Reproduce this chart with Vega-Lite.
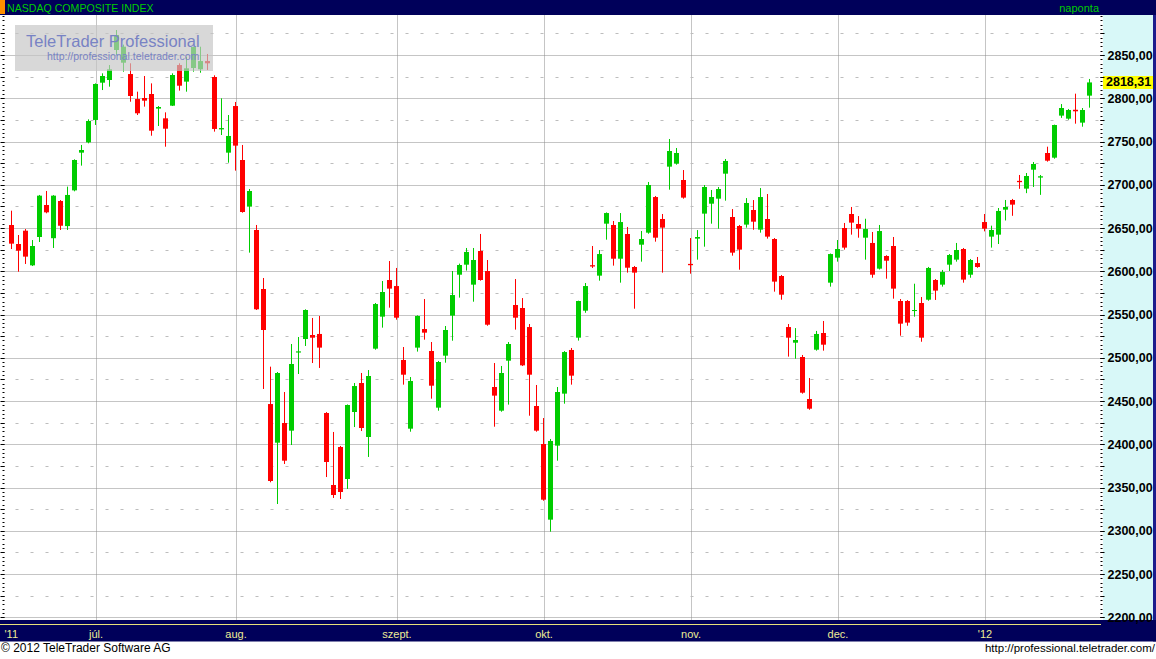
{
"$schema": "https://vega.github.io/schema/vega-lite/v6.json",
"width": 1096,
"height": 605,
"autosize": {"type": "none"},
"padding": {"left": 4, "top": 15, "right": 56, "bottom": 39},
"background": "white",
"config": {"view": {"stroke": null}, "font": "Liberation Sans", "scale": {"continuousPadding": 0}},
"resolve": {"axis": {"x": "independent", "y": "independent"}},
"datasets": {
"ohlc": [
{"i":0,"o":2653.5,"h":2670,"l":2625.7,"c":2631.9},
{"i":1,"o":2631.5,"h":2641.9,"l":2599.5,"c":2623.8},
{"i":2,"o":2646.9,"h":2648.8,"l":2608.4,"c":2616.9},
{"i":3,"o":2606.8,"h":2636.1,"l":2606,"c":2629.2},
{"i":4,"o":2639.6,"h":2688.2,"l":2633.8,"c":2687.4},
{"i":5,"o":2676.6,"h":2692.8,"l":2667,"c":2668.1},
{"i":6,"o":2638.2,"h":2688,"l":2626.9,"c":2687.4},
{"i":7,"o":2681.2,"h":2682.3,"l":2647.7,"c":2652.6},
{"i":8,"o":2652.2,"h":2697.8,"l":2647.7,"c":2688.2},
{"i":9,"o":2693.5,"h":2729.4,"l":2692.4,"c":2728.6},
{"i":10,"o":2737.1,"h":2746,"l":2722.1,"c":2740.2},
{"i":11,"o":2749,"h":2775.6,"l":2747.9,"c":2773.7},
{"i":12,"o":2774.9,"h":2817.2,"l":2769.1,"c":2816.5},
{"i":13,"o":2818,"h":2828.8,"l":2809.5,"c":2825.7},
{"i":14,"o":2821.1,"h":2838.4,"l":2813.4,"c":2833.4},
{"i":15,"o":2855.8,"h":2878.9,"l":2850,"c":2873.1},
{"i":16,"o":2841.1,"h":2862,"l":2830.7,"c":2859.6},
{"i":17,"o":2828,"h":2840.4,"l":2796,"c":2802.6},
{"i":18,"o":2799.1,"h":2807.6,"l":2780.6,"c":2782.6},
{"i":19,"o":2800.3,"h":2825.7,"l":2790.3,"c":2797.2},
{"i":20,"o":2804.9,"h":2817.2,"l":2756.7,"c":2762.5},
{"i":21,"o":2788,"h":2791,"l":2767.9,"c":2789.9},
{"i":22,"o":2776.8,"h":2783.7,"l":2744,"c":2764.8},
{"i":23,"o":2791.4,"h":2828.8,"l":2791,"c":2826.9},
{"i":24,"o":2838.4,"h":2840.4,"l":2808.8,"c":2814.5},
{"i":25,"o":2819.2,"h":2848,"l":2807.6,"c":2834.6},
{"i":26,"o":2835,"h":2859.6,"l":2830.7,"c":2859.2},
{"i":27,"o":2833.5,"h":2859.6,"l":2829.5,"c":2843},
{"i":28,"o":2843,"h":2851.2,"l":2832.7,"c":2840.4},
{"i":29,"o":2824.6,"h":2826.5,"l":2761.4,"c":2764.5},
{"i":30,"o":2764,"h":2799.9,"l":2757.5,"c":2765.5},
{"i":31,"o":2737.1,"h":2780.6,"l":2725.5,"c":2756.4},
{"i":32,"o":2791,"h":2795.7,"l":2716.3,"c":2745.2},
{"i":33,"o":2728.6,"h":2746,"l":2667.7,"c":2668.5},
{"i":34,"o":2674.7,"h":2695.1,"l":2621.5,"c":2692.8},
{"i":35,"o":2647.7,"h":2653.5,"l":2555.2,"c":2556},
{"i":36,"o":2579.5,"h":2592.2,"l":2463.9,"c":2532.1},
{"i":37,"o":2446.5,"h":2489.7,"l":2356,"c":2357.5},
{"i":38,"o":2401.8,"h":2483.5,"l":2330.9,"c":2482.4},
{"i":39,"o":2424.6,"h":2460.4,"l":2377.2,"c":2381},
{"i":40,"o":2415.7,"h":2515.9,"l":2399.1,"c":2492.8},
{"i":41,"o":2506,"h":2524,"l":2481.2,"c":2507.4},
{"i":42,"o":2521.7,"h":2556,"l":2513.6,"c":2555.2},
{"i":43,"o":2526.3,"h":2546,"l":2493.9,"c":2523.2},
{"i":44,"o":2527.5,"h":2548.3,"l":2488.2,"c":2511.7},
{"i":45,"o":2436.1,"h":2437.2,"l":2362.1,"c":2379.5},
{"i":46,"o":2352.9,"h":2414.2,"l":2337.9,"c":2341.3},
{"i":47,"o":2396.8,"h":2398,"l":2336.7,"c":2344.8},
{"i":48,"o":2359.8,"h":2446,"l":2348.3,"c":2445.4},
{"i":49,"o":2437.3,"h":2470.8,"l":2419.9,"c":2467.3},
{"i":50,"o":2470.8,"h":2482.4,"l":2415.3,"c":2418.8},
{"i":51,"o":2408.4,"h":2485.8,"l":2385.3,"c":2478.9},
{"i":52,"o":2510.5,"h":2563.3,"l":2509.3,"c":2562.1},
{"i":53,"o":2547.5,"h":2588.7,"l":2534.8,"c":2576},
{"i":54,"o":2589.9,"h":2611.8,"l":2557.9,"c":2579.9},
{"i":55,"o":2582.9,"h":2603.8,"l":2544,"c":2546.3},
{"i":56,"o":2497.4,"h":2512.4,"l":2468.9,"c":2480.4},
{"i":57,"o":2418,"h":2477.7,"l":2414.5,"c":2473.1},
{"i":58,"o":2511.7,"h":2549,"l":2507.1,"c":2548.3},
{"i":59,"o":2533.2,"h":2567.9,"l":2520.9,"c":2529},
{"i":60,"o":2507.8,"h":2518.2,"l":2452.7,"c":2467.7},
{"i":61,"o":2442.3,"h":2496.3,"l":2438.8,"c":2495.1},
{"i":62,"o":2502.4,"h":2536.7,"l":2494.3,"c":2532.1},
{"i":63,"o":2548.7,"h":2600.3,"l":2519.7,"c":2572.5},
{"i":64,"o":2596,"h":2608.8,"l":2569.5,"c":2607.2},
{"i":65,"o":2607.6,"h":2626.9,"l":2600.8,"c":2622.3},
{"i":66,"o":2584.5,"h":2626.9,"l":2564.8,"c":2613},
{"i":67,"o":2623.4,"h":2643.1,"l":2589.1,"c":2589.9},
{"i":68,"o":2600.3,"h":2613,"l":2537,"c":2538.2},
{"i":69,"o":2466.2,"h":2493.9,"l":2420.3,"c":2456.2},
{"i":70,"o":2438.8,"h":2490.5,"l":2437.6,"c":2482.4},
{"i":71,"o":2496.6,"h":2518.2,"l":2445.8,"c":2515.9},
{"i":72,"o":2561,"h":2591,"l":2532.5,"c":2546.3},
{"i":73,"o":2557.5,"h":2569,"l":2490.4,"c":2491.2},
{"i":74,"o":2535.5,"h":2539,"l":2433,"c":2480.4},
{"i":75,"o":2444.2,"h":2468.5,"l":2414.5,"c":2415.7},
{"i":76,"o":2400.3,"h":2430.3,"l":2334.7,"c":2335.9},
{"i":77,"o":2312.8,"h":2406.1,"l":2298.9,"c":2403.8},
{"i":78,"o":2398.4,"h":2466.2,"l":2381,"c":2460.4},
{"i":79,"o":2458.5,"h":2507.7,"l":2446.9,"c":2506.6},
{"i":80,"o":2509,"h":2511.3,"l":2468.9,"c":2479.3},
{"i":81,"o":2523.2,"h":2566,"l":2519.8,"c":2565.6},
{"i":82,"o":2554.4,"h":2586.4,"l":2552,"c":2582.9},
{"i":83,"o":2607,"h":2629.2,"l":2603.8,"c":2605.5},
{"i":84,"o":2594.9,"h":2624.5,"l":2589.1,"c":2619.9},
{"i":85,"o":2655,"h":2668,"l":2636.5,"c":2667.3},
{"i":86,"o":2653.5,"h":2658.1,"l":2606.5,"c":2614.5},
{"i":87,"o":2614.5,"h":2667.3,"l":2586.8,"c":2656.9},
{"i":88,"o":2643.1,"h":2651.2,"l":2598.4,"c":2604.1},
{"i":89,"o":2604.9,"h":2606.1,"l":2556.7,"c":2598.4},
{"i":90,"o":2630.7,"h":2646.5,"l":2611.1,"c":2637.3},
{"i":91,"o":2644.6,"h":2703.2,"l":2643.4,"c":2699.7},
{"i":92,"o":2685.8,"h":2687,"l":2634.2,"c":2638.8},
{"i":93,"o":2660.4,"h":2666.2,"l":2598.4,"c":2650.4},
{"i":94,"o":2720.9,"h":2752.9,"l":2694.3,"c":2739},
{"i":95,"o":2724.4,"h":2742.5,"l":2723.2,"c":2736.7},
{"i":96,"o":2705.5,"h":2717,"l":2683.9,"c":2685.1},
{"i":97,"o":2608.5,"h":2638.4,"l":2597.2,"c":2607},
{"i":98,"o":2637.7,"h":2647.6,"l":2613.4,"c":2639.6},
{"i":99,"o":2666.6,"h":2699.7,"l":2628.4,"c":2697.4},
{"i":100,"o":2678.1,"h":2693.9,"l":2655,"c":2685.8},
{"i":101,"o":2683.9,"h":2697.4,"l":2649.2,"c":2695.1},
{"i":102,"o":2712.8,"h":2729.8,"l":2681.6,"c":2727.5},
{"i":103,"o":2662.7,"h":2671.9,"l":2618,"c":2621.5},
{"i":104,"o":2652.3,"h":2653.5,"l":2601.8,"c":2625},
{"i":105,"o":2653.9,"h":2684.6,"l":2650.4,"c":2678.9},
{"i":106,"o":2670.8,"h":2682.3,"l":2648,"c":2657.3},
{"i":107,"o":2648.1,"h":2696.2,"l":2644.6,"c":2685.8},
{"i":108,"o":2660.4,"h":2689.3,"l":2637.7,"c":2640},
{"i":109,"o":2637.3,"h":2638.4,"l":2576.4,"c":2588},
{"i":110,"o":2594.5,"h":2595.7,"l":2567.1,"c":2572.9},
{"i":111,"o":2535.5,"h":2539,"l":2501.3,"c":2523.2},
{"i":112,"o":2517.4,"h":2534.3,"l":2498.9,"c":2520.5},
{"i":113,"o":2500.9,"h":2503.2,"l":2458.5,"c":2459.6},
{"i":114,"o":2452.3,"h":2476.6,"l":2439.9,"c":2441.1},
{"i":115,"o":2509.3,"h":2531,"l":2508.2,"c":2527.5},
{"i":116,"o":2528.6,"h":2542.5,"l":2508.2,"c":2515.1},
{"i":117,"o":2586.8,"h":2620.5,"l":2582.2,"c":2619.9},
{"i":118,"o":2615.7,"h":2636.1,"l":2611.1,"c":2625.7},
{"i":119,"o":2650,"h":2655.8,"l":2625,"c":2627.3},
{"i":120,"o":2666.2,"h":2674.3,"l":2642.3,"c":2656.2},
{"i":121,"o":2654.6,"h":2663.8,"l":2638.8,"c":2649.2},
{"i":122,"o":2638.8,"h":2660.7,"l":2613.4,"c":2648.8},
{"i":123,"o":2632.7,"h":2645.4,"l":2592.5,"c":2596},
{"i":124,"o":2603,"h":2653.5,"l":2602,"c":2646.5},
{"i":125,"o":2617.6,"h":2618.5,"l":2591.4,"c":2612.2},
{"i":126,"o":2629.2,"h":2639.6,"l":2568.3,"c":2579.9},
{"i":127,"o":2565.6,"h":2567.9,"l":2525.5,"c":2539.4},
{"i":128,"o":2565.6,"h":2566.7,"l":2537,"c":2540.6},
{"i":129,"o":2554,"h":2585.6,"l":2547.5,"c":2555.2},
{"i":130,"o":2563.3,"h":2570.2,"l":2518.5,"c":2523.2},
{"i":131,"o":2567.1,"h":2605,"l":2565.9,"c":2603.8},
{"i":132,"o":2589.9,"h":2591,"l":2566.8,"c":2577.6},
{"i":133,"o":2584.5,"h":2601.5,"l":2582.2,"c":2599.1},
{"i":134,"o":2607.6,"h":2619.9,"l":2600.3,"c":2618.8},
{"i":135,"o":2613.4,"h":2632.7,"l":2611.1,"c":2624.6},
{"i":136,"o":2625.7,"h":2626.9,"l":2586.8,"c":2590.3},
{"i":137,"o":2596,"h":2614.2,"l":2592.5,"c":2613},
{"i":138,"o":2609.5,"h":2616.5,"l":2604,"c":2604.9},
{"i":139,"o":2656.9,"h":2666.2,"l":2646.1,"c":2649.2},
{"i":140,"o":2640,"h":2652.7,"l":2627.3,"c":2647.7},
{"i":141,"o":2642.3,"h":2673.1,"l":2631.5,"c":2669.7},
{"i":142,"o":2671.2,"h":2682.4,"l":2658.7,"c":2674.3},
{"i":143,"o":2682.4,"h":2683.6,"l":2664.1,"c":2677},
{"i":144,"o":2704.5,"h":2711.3,"l":2695.3,"c":2703},
{"i":145,"o":2695.5,"h":2713.6,"l":2690.3,"c":2710.1},
{"i":146,"o":2717.4,"h":2726.3,"l":2697.4,"c":2724},
{"i":147,"o":2708.3,"h":2711.3,"l":2688.3,"c":2709.8},
{"i":148,"o":2736.7,"h":2744,"l":2726.7,"c":2727.8},
{"i":149,"o":2731.3,"h":2769.5,"l":2730.1,"c":2769.1},
{"i":150,"o":2779.9,"h":2793.3,"l":2777.3,"c":2788.7},
{"i":151,"o":2776.4,"h":2787.6,"l":2775.1,"c":2786.4},
{"i":152,"o":2786.7,"h":2805.3,"l":2770.6,"c":2784.9},
{"i":153,"o":2771.8,"h":2788.7,"l":2767.1,"c":2786.4},
{"i":154,"o":2803,"h":2822.3,"l":2789.1,"c":2818.31}
]
},
"layer": [
{
"data": {"name": "ohlc"},
"mark": {"type": "rule", "strokeWidth": 1},
"encoding": {
"x": {"field": "i", "type": "quantitative", "scale": {"domain": [-1.071429, 155.5], "nice": false, "zero": false, "padding": 0},
"axis": {"orient": "bottom", "values": [12, 32, 55, 76, 97, 118, 139], "grid": true, "gridColor": "#8a8a8a", "gridDash": [1, 1], "gridWidth": 1, "labels": false, "ticks": false, "domain": false, "title": null, "offset": 0, "zindex": 0}},
"y": {"field": "l", "type": "quantitative", "scale": {"domain": [2196.821, 2896.243], "nice": false, "zero": false, "padding": 0},
"axis": {"orient": "right", "values": [2200, 2250, 2300, 2350, 2400, 2450, 2500, 2550, 2600, 2650, 2700, 2750, 2800, 2850], "grid": true, "gridColor": "#8a8a8a", "gridDash": [1, 1], "gridWidth": 1, "labels": false, "ticks": false, "domain": false, "title": null, "offset": 0, "zindex": 0}},
"y2": {"field": "h"},
"color": {"condition": {"test": "datum.c >= datum.o", "value": "#00cc00"}, "value": "#ff0000"}
}
},
{
"data": {"name": "ohlc"},
"mark": {"type": "bar", "size": 5},
"encoding": {
"x": {"field": "i", "type": "quantitative", "scale": {"domain": [-1.071429, 155.5], "nice": false, "zero": false, "padding": 0}, "axis": null},
"y": {"field": "o", "type": "quantitative", "scale": {"domain": [2196.821, 2896.243], "nice": false, "zero": false, "padding": 0},
"axis": {"orient": "left", "values": [2225, 2275, 2325, 2375, 2425, 2475, 2525, 2575, 2625, 2675, 2725, 2775, 2825, 2875], "grid": true, "gridColor": "#bdbdbd", "gridDash": [3, 12], "gridDashOffset": 4, "gridWidth": 1, "labels": false, "ticks": false, "domain": false, "title": null, "offset": 0, "zindex": 0}},
"y2": {"field": "c"},
"color": {"condition": {"test": "datum.c >= datum.o", "value": "#00cc00"}, "value": "#ff0000"}
}
},
{
"data": {"values": [{}]},
"mark": {"type": "rect", "color": "#c6c6c6", "opacity": 0.68},
"encoding": {
"x": {"datum": 0.5, "type": "quantitative", "scale": {"domain": [-1.071429, 155.5], "nice": false, "zero": false, "padding": 0}, "axis": null},
"x2": {"datum": 28.785714},
"y": {"datum": 2884.682, "type": "quantitative", "scale": {"domain": [2196.821, 2896.243], "nice": false, "zero": false, "padding": 0}, "axis": null},
"y2": {"datum": 2831.503}
}
},
{
"data": {"values": [{}]},
"mark": {"type": "text", "text": "TeleTrader Professional", "align": "left", "baseline": "alphabetic", "font": "Liberation Sans", "fontSize": 16.5, "color": "#7883c4"},
"encoding": {
"x": {"datum": 2.071429, "type": "quantitative", "scale": {"domain": [-1.071429, 155.5], "nice": false, "zero": false, "padding": 0}, "axis": null},
"y": {"datum": 2859.6, "type": "quantitative", "scale": {"domain": [2196.821, 2896.243], "nice": false, "zero": false, "padding": 0}, "axis": null}
}
},
{
"data": {"values": [{}]},
"mark": {"type": "text", "text": "http://professional.teletrader.com", "align": "left", "baseline": "alphabetic", "font": "Liberation Sans", "fontSize": 10.5, "color": "#7883c4"},
"encoding": {
"x": {"datum": 5.071429, "type": "quantitative", "scale": {"domain": [-1.071429, 155.5], "nice": false, "zero": false, "padding": 0}, "axis": null},
"y": {"datum": 2844.22, "type": "quantitative", "scale": {"domain": [2196.821, 2896.243], "nice": false, "zero": false, "padding": 0}, "axis": null}
}
},
{
"data": {"values": [{}]},
"mark": {"type": "rect", "color": "#d8f8f8"},
"encoding": {
"x": {"datum": 155.928571, "type": "quantitative", "scale": {"domain": [-1.071429, 155.5], "nice": false, "zero": false, "padding": 0}, "axis": null},
"x2": {"datum": 163.071429},
"y": {"datum": 2896.243, "type": "quantitative", "scale": {"domain": [2196.821, 2896.243], "nice": false, "zero": false, "padding": 0}, "axis": null},
"y2": {"datum": 2196.821}
}
},
{
"data": {"values": [{}]},
"mark": {"type": "rect", "color": "#1c1c8c"},
"encoding": {
"x": {"datum": 163.071429, "type": "quantitative", "scale": {"domain": [-1.071429, 155.5], "nice": false, "zero": false, "padding": 0}, "axis": null},
"x2": {"datum": 163.5},
"y": {"datum": 2913.584, "type": "quantitative", "scale": {"domain": [2196.821, 2896.243], "nice": false, "zero": false, "padding": 0}, "axis": null},
"y2": {"datum": 2171.965}
}
},
{
"data": {"values": [{}]},
"mark": {"type": "rect", "color": "#00005a"},
"encoding": {
"x": {"datum": -1.642857, "type": "quantitative", "scale": {"domain": [-1.071429, 155.5], "nice": false, "zero": false, "padding": 0}, "axis": null},
"x2": {"datum": 163.5},
"y": {"datum": 2913.584, "type": "quantitative", "scale": {"domain": [2196.821, 2896.243], "nice": false, "zero": false, "padding": 0}, "axis": null},
"y2": {"datum": 2896.243}
}
},
{
"data": {"values": [{}]},
"mark": {"type": "rect", "color": "#ff9000"},
"encoding": {
"x": {"datum": -1.642857, "type": "quantitative", "scale": {"domain": [-1.071429, 155.5], "nice": false, "zero": false, "padding": 0}, "axis": null},
"x2": {"datum": -0.928571},
"y": {"datum": 2913.584, "type": "quantitative", "scale": {"domain": [2196.821, 2896.243], "nice": false, "zero": false, "padding": 0}, "axis": null},
"y2": {"datum": 2897.4}
}
},
{
"data": {"values": [{}]},
"mark": {"type": "text", "text": "NASDAQ COMPOSITE INDEX", "align": "left", "baseline": "alphabetic", "font": "Liberation Sans", "fontSize": 10.6, "color": "#00cc00"},
"encoding": {
"x": {"datum": -0.642857, "type": "quantitative", "scale": {"domain": [-1.071429, 155.5], "nice": false, "zero": false, "padding": 0}, "axis": null},
"y": {"datum": 2900.06, "type": "quantitative", "scale": {"domain": [2196.821, 2896.243], "nice": false, "zero": false, "padding": 0}, "axis": null}
}
},
{
"data": {"values": [{}]},
"mark": {"type": "text", "text": "naponta", "align": "right", "baseline": "alphabetic", "font": "Liberation Sans", "fontSize": 11, "color": "#00cc00"},
"encoding": {
"x": {"datum": 155.357143, "type": "quantitative", "scale": {"domain": [-1.071429, 155.5], "nice": false, "zero": false, "padding": 0}, "axis": null},
"y": {"datum": 2900.06, "type": "quantitative", "scale": {"domain": [2196.821, 2896.243], "nice": false, "zero": false, "padding": 0}, "axis": null}
}
},
{
"data": {"values": [{}]},
"mark": {"type": "rect", "color": "#00005a"},
"encoding": {
"x": {"datum": -1.642857, "type": "quantitative", "scale": {"domain": [-1.071429, 155.5], "nice": false, "zero": false, "padding": 0}, "axis": null},
"x2": {"datum": 163.5},
"y": {"datum": 2196.821, "type": "quantitative", "scale": {"domain": [2196.821, 2896.243], "nice": false, "zero": false, "padding": 0}, "axis": null},
"y2": {"datum": 2171.965}
}
},
{
"data": {"values": [{}]},
"mark": {"type": "rule", "color": "#e8e07a", "strokeWidth": 1},
"encoding": {
"x": {"datum": -1.642857, "type": "quantitative", "scale": {"domain": [-1.071429, 155.5], "nice": false, "zero": false, "padding": 0}, "axis": null},
"x2": {"datum": 155.642857},
"y": {"datum": 2191.618, "type": "quantitative", "scale": {"domain": [2196.821, 2896.243], "nice": false, "zero": false, "padding": 0},
"axis": {"orient": "right", "tickCount": 140, "ticks": true, "tickSize": 2, "tickColor": "#000000", "tickWidth": 1, "labels": false, "grid": false, "domain": false, "title": null, "offset": 0, "zindex": 1}}
}
},
{
"data": {"values": [{}]},
"mark": {"type": "text", "text": "© 2012 TeleTrader Software AG", "align": "left", "baseline": "alphabetic", "font": "Liberation Sans", "fontSize": 12, "color": "#000000"},
"encoding": {
"x": {"datum": -1.5, "type": "quantitative", "scale": {"domain": [-1.071429, 155.5], "nice": false, "zero": false, "padding": 0}, "axis": null},
"y": {"datum": 2159.25, "type": "quantitative", "scale": {"domain": [2196.821, 2896.243], "nice": false, "zero": false, "padding": 0},
"axis": {"orient": "left", "tickCount": 140, "ticks": true, "tickSize": 2, "tickColor": "#000000", "tickWidth": 1, "labels": false, "grid": false, "domain": false, "title": null, "offset": 0, "zindex": 1}}
}
},
{
"data": {"values": [{}]},
"mark": {"type": "text", "text": "http://professional.teletrader.com/", "align": "right", "baseline": "alphabetic", "font": "Liberation Sans", "fontSize": 11.5, "color": "#000000"},
"encoding": {
"x": {"datum": 163.357143, "type": "quantitative", "scale": {"domain": [-1.071429, 155.5], "nice": false, "zero": false, "padding": 0}, "axis": null},
"y": {"datum": 2159.25, "type": "quantitative", "scale": {"domain": [2196.821, 2896.243], "nice": false, "zero": false, "padding": 0},
"axis": {"orient": "left", "values": [2200, 2225, 2250, 2275, 2300, 2325, 2350, 2375, 2400, 2425, 2450, 2475, 2500, 2525, 2550, 2575, 2600, 2625, 2650, 2675, 2700, 2725, 2750, 2775, 2800, 2825, 2850, 2875], "ticks": true, "tickSize": 4, "tickColor": "#000000", "tickWidth": 1, "labels": false, "grid": false, "domain": false, "title": null, "offset": 0, "zindex": 1}}
}
},
{
"data": {"values": [{}]},
"mark": {"type": "rect", "color": "#ffff00"},
"encoding": {
"x": {"datum": 155.928571, "type": "quantitative", "scale": {"domain": [-1.071429, 155.5], "nice": false, "zero": false, "padding": 0}, "axis": null},
"x2": {"datum": 163.071429},
"y": {"datum": 2825.72, "type": "quantitative", "scale": {"domain": [2196.821, 2896.243], "nice": false, "zero": false, "padding": 0},
"axis": {"orient": "right", "values": [2200, 2225, 2250, 2275, 2300, 2325, 2350, 2375, 2400, 2425, 2450, 2475, 2500, 2525, 2550, 2575, 2600, 2625, 2650, 2675, 2700, 2725, 2750, 2775, 2800, 2825, 2850, 2875], "ticks": true, "tickSize": 4, "tickColor": "#000000", "tickWidth": 1, "labels": false, "grid": false, "domain": false, "title": null, "offset": 0, "zindex": 1}},
"y2": {"datum": 2810.69}
}
},
{
"data": {"values": [{}]},
"mark": {"type": "text", "text": "2818,31", "align": "left", "baseline": "middle", "font": "Liberation Sans", "fontWeight": "bold", "fontSize": 12.5, "color": "#000000"},
"encoding": {
"x": {"datum": 156.357143, "type": "quantitative", "scale": {"domain": [-1.071429, 155.5], "nice": false, "zero": false, "padding": 0},
"axis": {"orient": "bottom", "values": [-1.071429, 12, 32, 55, 76, 97, 118, 139], "labelExpr": "datum.value < 0 ? \"'11\" : datum.value < 20 ? 'júl.' : datum.value < 40 ? 'aug.' : datum.value < 60 ? 'szept.' : datum.value < 80 ? 'okt.' : datum.value < 100 ? 'nov.' : datum.value < 120 ? 'dec.' : \"'12\"", "grid": false, "ticks": false, "tickSize": 0, "domain": false, "labelPadding": 17, "labelBaseline": "alphabetic", "labelColor": "#ecec96", "labelFont": "Liberation Sans", "labelFontSize": 11, "labelFlush": true, "labelOverlap": false, "title": null, "offset": 0, "zindex": 1}},
"y": {"datum": 2818.31, "type": "quantitative", "scale": {"domain": [2196.821, 2896.243], "nice": false, "zero": false, "padding": 0},
"axis": {"orient": "right", "values": [2200, 2250, 2300, 2350, 2400, 2450, 2500, 2550, 2600, 2650, 2700, 2750, 2800, 2850], "labelExpr": "replace(format(datum.value, '.2f'), '.', ',')", "ticks": true, "tickSize": 4, "tickColor": "#000000", "labels": true, "labelPadding": 3, "labelFont": "Liberation Sans", "labelFontWeight": "bold", "labelFontSize": 12.5, "labelColor": "#000000", "labelBaseline": "middle", "labelOverlap": false, "labelBound": false, "grid": false, "domain": false, "title": null, "offset": 0, "zindex": 1}}
}
}
]
}
